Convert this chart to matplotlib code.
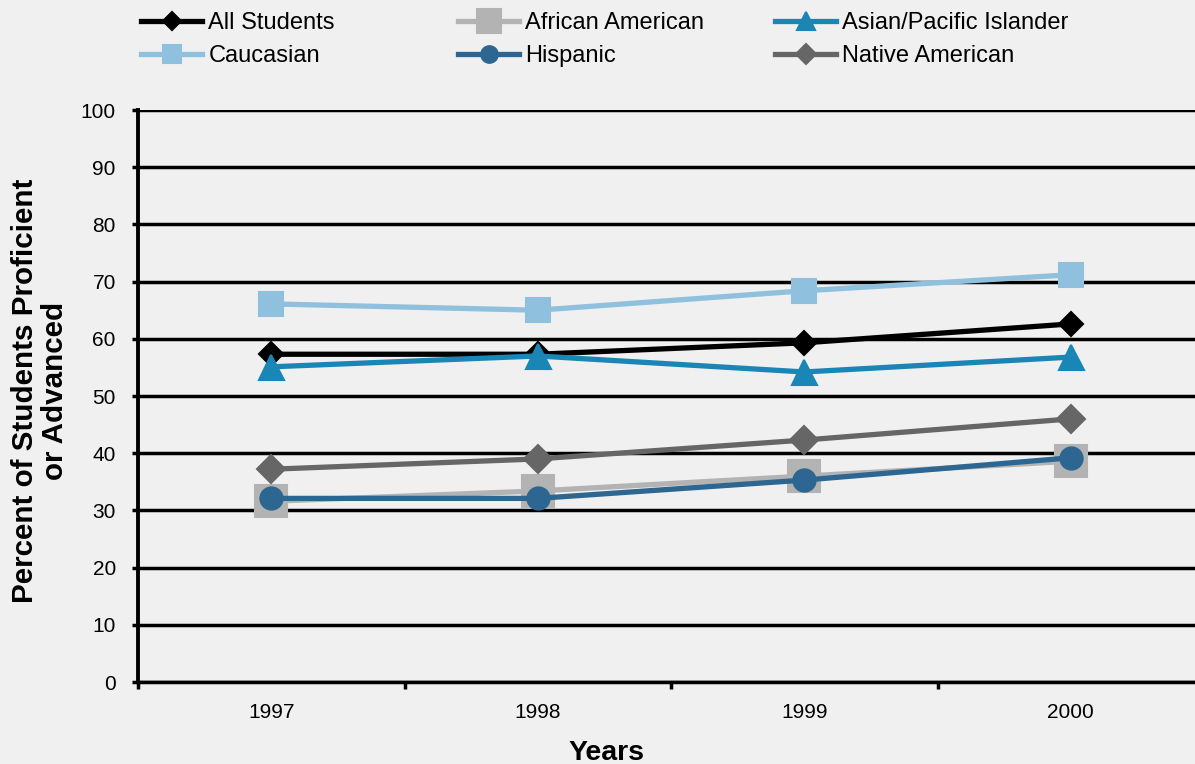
import matplotlib
matplotlib.use("Agg")
import matplotlib.pyplot as plt
from matplotlib.ticker import FixedLocator

years = ["1997", "1998", "1999", "2000"]
all_students = [57.3, 57.3, 59.3, 62.6]
african_american = [31.6, 33.4, 36.0, 38.6]
asian_pacific = [55.1, 57.0, 54.2, 56.8]
caucasian = [66.1, 65.0, 68.4, 71.2]
hispanic = [32.1, 32.1, 35.3, 39.2]
native_american = [37.2, 39.0, 42.3, 46.0]

yticks = [0, 10, 20, 30, 40, 50, 60, 70, 80, 90, 100]

plt.rcParams['font.family'] = ['Liberation Sans', 'DejaVu Sans']
BG = '#f0f0f0'

W, H = 1195, 764
fig = plt.figure(figsize=(W / 100, H / 100), dpi=100, facecolor=BG)

def px(x0, y0, x1, y1):
    return [x0 / W, 1 - y1 / H, (x1 - x0) / W, (y1 - y0) / H]

ax = fig.add_axes(px(138, 110, 1204, 682), facecolor=BG)
x = list(range(len(years)))

lw = 3.8
series = [
    ("All Students", all_students, '#000000', 'D', 12),
    ("Caucasian", caucasian, '#8fc0de', 's', 17),
    ("African American", african_american, '#b3b3b3', 's', 23),
    ("Hispanic", hispanic, '#2d6690', 'o', 16),
    ("Asian/Pacific Islander", asian_pacific, '#1a86b5', '^', 18),
    ("Native American", native_american, '#666666', 'D', 14),
]
zorders = {"All Students": 5, "Caucasian": 4, "African American": 3,
           "Hispanic": 6, "Asian/Pacific Islander": 7, "Native American": 4}
handles = {}
for name, vals, col, mk, ms in series:
    ln, = ax.plot(x, vals, color=col, lw=lw, marker=mk, ms=ms,
                  markeredgecolor=col, markerfacecolor=col, markeredgewidth=1.5,
                  solid_joinstyle='round', zorder=zorders[name], label=name,
                  clip_on=False)
    ln.set_path_effects([])
    handles[name] = ln

ax.set_xlim(-0.5, 3.5)
ax.set_ylim(0, 100)
ax.set_yticks(yticks)
ax.set_yticklabels([str(v) for v in yticks], fontsize=15)
ax.set_xticks(x)
ax.set_xticklabels(years, fontsize=15)
ax.xaxis.set_minor_locator(FixedLocator([-0.5, 0.5, 1.5, 2.5]))
ax.tick_params(axis='x', which='major', length=0, pad=15)
ax.tick_params(axis='x', which='minor', length=5, width=2.5, direction='out', color='black')
ax.tick_params(axis='y', which='major', length=4, width=2.5, pad=12, color='black')

ax.grid(axis='y', color='black', lw=2.5, zorder=1)
ax.set_axisbelow(True)
for s in ['top', 'right']:
    ax.spines[s].set_visible(False)
ax.spines['left'].set_linewidth(2.8)
ax.spines['bottom'].set_linewidth(2.5)

fig.text(40 / W, 1 - 391 / H, "Percent of Students Proficient\nor Advanced",
         rotation=90, ha='center', va='center', multialignment='center',
         fontsize=21.3, fontweight='bold', linespacing=1.12)
fig.text(606 / W, 1 - 760 / H, "Years", ha='center', va='baseline',
         fontsize=20.5, fontweight='bold')

cols = [(["All Students", "Caucasian"], 141),
        (["African American", "Hispanic"], 458),
        (["Asian/Pacific Islander", "Native American"], 775)]
for names, xl in cols:
    fig.legend([handles[n] for n in names], names, loc='upper left',
               bbox_to_anchor=(xl / W, 1 - 12 / H), frameon=False,
               fontsize=17, handlelength=2.6, handletextpad=0.25,
               labelspacing=0.47, borderaxespad=0, borderpad=0,
               markerscale=0.75)

fig.savefig("out.png", dpi=100, facecolor=BG)
